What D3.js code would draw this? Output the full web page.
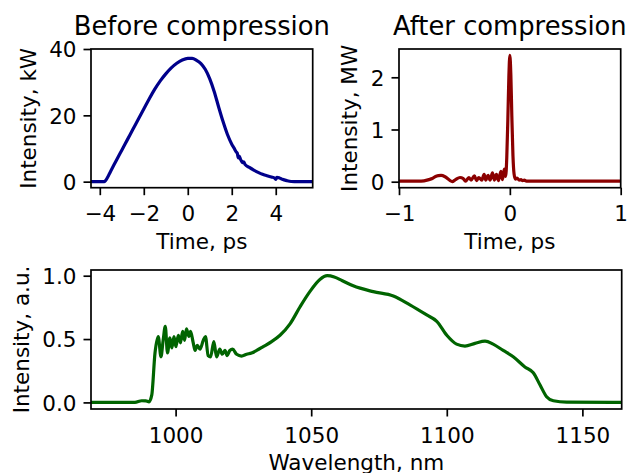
<!DOCTYPE html>
<html>
<head>
<meta charset="utf-8">
<script src="https://cdn.jsdelivr.net/npm/d3@7"></script>
<style>
  html, body { margin: 0; padding: 0; background: #fff; }
  svg { display: block; }
  text { font-family: "DejaVu Sans", sans-serif; fill: #000; }
</style>
</head>
<body>
<script>
// ---------- data ----------
const beforeT = [-4.4,-4.0,-3.8,-3.74,-3.5,-3.25,-3.0,-2.75,-2.5,-2.25,-2.0,-1.75,-1.5,-1.25,-1.0,-0.75,-0.5,-0.25,0,0.2,0.4,0.6,0.8,1.0,1.2,1.4,1.6,1.8,2.0,2.1,2.2,2.25,2.3,2.35,2.4,2.5,2.55,2.6,2.8,3.0,3.2,3.4,3.6,3.8,3.95,4.0,4.05,4.15,4.3,4.5,4.7,5.0,5.68];
const beforeP = [0,0,0,0.3,3.25,6.4,9.5,12.6,15.7,18.8,21.9,25.0,27.9,30.4,32.5,34.3,35.7,36.7,37.2,37.2,36.6,35.6,33.8,31.0,27.2,22.6,18.2,14.3,11.3,10.2,9.0,8.6,7.2,7.6,6.7,5.7,6.0,5.2,4.3,3.5,2.8,2.2,1.8,1.4,1.1,0.7,1.3,1.2,0.7,0.3,0.05,0,0];

const afterT = [-1,-0.80,-0.73,-0.70,-0.67,-0.645,-0.62,-0.58,-0.52,-0.49,-0.45,-0.42,-0.40,-0.37,-0.35,-0.32,-0.30,-0.28,-0.253,-0.232,-0.217,-0.196,-0.178,-0.157,-0.139,-0.121,-0.103,-0.081,-0.066,-0.051,-0.038,-0.028,-0.018,-0.009,0,0.009,0.018,0.028,0.038,0.05,0.065,0.085,0.1,0.115,0.13,0.15,0.17,1];
const afterP = [0.01,0.01,0.04,0.06,0.10,0.115,0.12,0.09,0.0,0.04,0.08,0.06,0.01,0.08,0.03,0.11,0.02,0.08,0.03,0.14,0.03,0.12,0.03,0.17,0.03,0.14,0.02,0.20,0.04,0.24,0.10,0.45,1.2,2.0,2.42,2.05,1.25,0.5,0.15,0.05,0.07,0.03,0.04,0.02,0.03,0.01,0.01,0.01];

const specWl = [968.8,985,987.5,989,990.2,991.2,992.4,993.6,994.6,995.4,996.2,997.0,997.9,998.6,999.4,1000.1,1001.0,1001.8,1002.6,1003.3,1004.0,1004.9,1005.5,1006.5,1007.2,1008.0,1009.0,1010.2,1011.0,1012.0,1012.9,1014.1,1015.1,1016.3,1017.2,1018.2,1019.0,1020.0,1021.0,1022.5,1024.3,1026.2,1028.0,1029.9,1032.3,1035.4,1038.5,1042.2,1045.9,1049.5,1053.2,1055.9,1058.5,1061.5,1065.5,1072.9,1080.3,1086.4,1092.6,1096.3,1100.0,1103.6,1106.7,1110.4,1114.1,1117.1,1120.8,1124.5,1128.8,1131.9,1134.4,1136.8,1139.3,1144.2,1164.5];
const specI = [0,0,0.013,0.012,0.005,0.057,0.39,0.52,0.36,0.49,0.60,0.39,0.51,0.43,0.52,0.44,0.53,0.47,0.56,0.49,0.58,0.52,0.56,0.47,0.41,0.45,0.42,0.49,0.52,0.37,0.36,0.48,0.36,0.42,0.38,0.41,0.37,0.41,0.42,0.38,0.366,0.38,0.39,0.41,0.44,0.48,0.53,0.62,0.755,0.874,0.97,1.0,0.99,0.96,0.92,0.874,0.84,0.77,0.69,0.64,0.53,0.46,0.445,0.466,0.484,0.46,0.41,0.36,0.28,0.234,0.137,0.045,0.013,0.002,0];

const beforeXTicks = [-4,-2,0,2,4];
const beforeYTicks = [0,20,40];
const afterXTicks = [-1,0,1];
const afterYTicks = [0,1,2];
const specXTicks = [1000,1050,1100,1150];
const specYTicks = [0.0,0.5,1.0];

// ---------- layout ----------
const W = 628, H = 473;
const FS = 21.5, TFS = 25.8;
const svg = d3.select("body").append("svg").attr("width", W).attr("height", H);

const fmtMinus = d => String(d).replace("-", "\u2212");

function panel(cfg) {
  const {left, right, top, bottom, xDom, yDom, xTicks, yTicks, xFmt, yFmt, xs, ys, color, title, xLabel, yLabel, yLabelX, id} = cfg;
  const x = d3.scaleLinear().domain(xDom).range([left, right]);
  const y = d3.scaleLinear().domain(yDom).range([bottom, top]);
  const g = svg.append("g");

  g.append("clipPath").attr("id", id).append("rect")
    .attr("x", left).attr("y", top).attr("width", right - left).attr("height", bottom - top);

  const pts = xs.map((v, i) => [v, ys[i]]);
  g.append("path").datum(pts)
    .attr("clip-path", `url(#${id})`)
    .attr("fill", "none").attr("stroke", color).attr("stroke-width", 3.2)
    .attr("stroke-linejoin", "round").attr("stroke-linecap", "butt")
    .attr("d", d3.line().x(d => x(d[0])).y(d => y(d[1])).curve(d3.curveMonotoneX));

  const xAxis = d3.axisBottom(x).tickValues(xTicks).tickSize(7.5).tickPadding(5.5).tickFormat(xFmt);
  const yAxis = d3.axisLeft(y).tickValues(yTicks).tickSize(7.5).tickPadding(5.5).tickFormat(yFmt);
  const gx = g.append("g").attr("transform", `translate(0,${bottom})`).call(xAxis);
  const gy = g.append("g").attr("transform", `translate(${left},0)`).call(yAxis);
  [gx, gy].forEach(a => {
    a.select(".domain").remove();
    a.selectAll(".tick line").attr("stroke", "#000").attr("stroke-width", 1.7);
    a.selectAll(".tick text").attr("font-size", FS).attr("font-family", "DejaVu Sans").attr("fill", "#000");
  });
  gx.selectAll(".tick text").attr("dy", null).attr("y", 33.5);
  gy.selectAll(".tick text").attr("dy", null).attr("y", 7.8).attr("x", -14.5);

  g.append("rect").attr("x", left).attr("y", top).attr("width", right - left).attr("height", bottom - top)
    .attr("fill", "none").attr("stroke", "#000").attr("stroke-width", 1.7);

  if (title) g.append("text").attr("x", (left + right) / 2).attr("y", 35)
    .attr("text-anchor", "middle").attr("font-size", TFS).text(title);
  g.append("text").attr("x", (left + right) / 2).attr("y", bottom + 61)
    .attr("text-anchor", "middle").attr("font-size", FS).text(xLabel);
  const cy = (top + bottom) / 2;
  g.append("text").attr("transform", `translate(${yLabelX},${cy}) rotate(-90)`)
    .attr("text-anchor", "middle").attr("font-size", FS).text(yLabel);
}

panel({
  id: "c1", left: 91, right: 312.7, top: 49, bottom: 187.7,
  xDom: [-4.4, 5.68], yDom: [-1.82, 40.0],
  xTicks: beforeXTicks, yTicks: beforeYTicks,
  xFmt: fmtMinus, yFmt: d => String(d),
  xs: beforeT, ys: beforeP, color: "#00008b",
  title: "Before compression", xLabel: "Time, ps", yLabel: "Intensity, kW", yLabelX: 35.5
});

panel({
  id: "c2", left: 399, right: 620.7, top: 49, bottom: 187.7,
  xDom: [-1, 1], yDom: [-0.115, 2.542],
  xTicks: afterXTicks, yTicks: afterYTicks,
  xFmt: fmtMinus, yFmt: d => String(d),
  xs: afterT, ys: afterP, color: "#8b0000",
  title: "After compression", xLabel: "Time, ps", yLabel: "Intensity, MW", yLabelX: 357
});

panel({
  id: "c3", left: 91, right: 621.7, top: 270, bottom: 409,
  xDom: [968.8, 1164.5], yDom: [-0.052, 1.045],
  xTicks: specXTicks, yTicks: specYTicks,
  xFmt: d => String(d), yFmt: d3.format(".1f"),
  xs: specWl, ys: specI, color: "#006400",
  title: null, xLabel: "Wavelength, nm", yLabel: "Intensity, a.u.", yLabelX: 28.5
});
</script>
</body>
</html>
